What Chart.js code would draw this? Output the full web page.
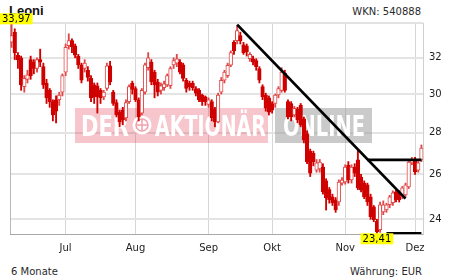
<!DOCTYPE html>
<html>
<head>
<meta charset="utf-8">
<script src="https://cdn.jsdelivr.net/npm/chart.js@4.4.1/dist/chart.umd.min.js"></script>
<style>
  html, body { margin: 0; padding: 0; background: #fff; }
  #wrap { position: relative; width: 468px; height: 279px; font-family: "DejaVu Sans", Verdana, sans-serif; }
  #chart { position: absolute; left: 0; top: 0; }
  .t { position: absolute; font-size: 10px; line-height: 12px; color: #2a2a2a; white-space: nowrap; }
</style>
</head>
<body>
<div id="wrap">
  <div class="t" style="left:9px;top:3px;font:bold 13px 'Liberation Sans',Arial,sans-serif;color:#111;">Leoni</div>
  <div class="t" style="right:47px;top:6px;">WKN: 540888</div>
  <div class="t" style="left:11px;top:266px;">6 Monate</div>
  <div class="t" style="right:46px;top:266px;">Währung: EUR</div>
  <canvas id="chart" width="468" height="279"></canvas>
</div>
<script>
// trading days, Jun 7 - Dec 5
const dates = [
  '07.06.','08.06.','11.06.','12.06.','13.06.','14.06.','15.06.','18.06.','19.06.','20.06.','21.06.','22.06.','25.06.','26.06.','27.06.','28.06.','29.06.',
  '02.07.','03.07.','04.07.','05.07.','06.07.','09.07.','10.07.','11.07.','12.07.','13.07.','16.07.','17.07.','18.07.','19.07.','20.07.','23.07.','24.07.','25.07.','26.07.','27.07.','30.07.','31.07.',
  '01.08.','02.08.','03.08.','06.08.','07.08.','08.08.','09.08.','10.08.','13.08.','14.08.','15.08.','16.08.','17.08.','20.08.','21.08.','22.08.','23.08.','24.08.','27.08.','28.08.','29.08.','30.08.','31.08.',
  '03.09.','04.09.','05.09.','06.09.','07.09.','10.09.','11.09.','12.09.','13.09.','14.09.','17.09.','18.09.','19.09.','20.09.','21.09.','24.09.','25.09.','26.09.','27.09.','28.09.',
  '01.10.','02.10.','03.10.','04.10.','05.10.','08.10.','09.10.','10.10.','11.10.','12.10.','15.10.','16.10.','17.10.','18.10.','19.10.','22.10.','23.10.','24.10.','25.10.','26.10.','29.10.','30.10.','31.10.',
  '01.11.','02.11.','05.11.','06.11.','07.11.','08.11.','09.11.','12.11.','13.11.','14.11.','15.11.','16.11.','19.11.','20.11.','21.11.','22.11.','23.11.','26.11.','27.11.','28.11.','29.11.','30.11.',
  '03.12.','04.12.','05.12.'
];

const opens = [
  32.9,33.5,32.15,32.0,30.4,30.8,31.9,31.75,31.4,31.9,31.5,30.6,30.2,29.6,29.7,29.7,30.1,
  31.2,32.7,33.0,32.7,32.1,31.6,31.4,31.3,30.85,30.5,30.45,30.2,29.85,30.3,31.55,30.1,29.55,29.05,29.15,28.75,29.6,30.6,
  30.3,29.7,29.0,30.1,31.45,31.75,31.2,30.65,30.2,30.35,30.5,30.45,31.6,31.7,31.75,31.6,30.75,30.6,30.6,30.3,30.2,29.95,29.85,
  29.45,29.6,29.2,28.55,30.1,30.75,31.0,31.58,32.9,33.0,33.3,32.75,32.7,31.95,31.95,31.85,31.4,30.4,29.95,29.8,
  29.5,29.5,29.95,30.2,31.15,29.6,29.5,28.9,29.2,29.4,28.7,27.95,27.1,27.0,26.2,26.25,26.34,25.7,25.3,24.98,24.85,24.76,25.6,
  25.65,26.44,25.74,26.34,26.68,25.88,25.6,25.52,24.98,24.54,23.92,23.56,24.32,24.41,24.63,24.72,25.2,25.16,24.98,25.07,25.43,26.54,
  26.68,26.2,26.68
];
const highs = [
  33.97,33.7,32.3,32.1,31.0,31.3,32.1,31.9,32.0,32.5,31.7,30.8,30.3,29.7,29.9,30.1,31.1,
  32.8,33.4,33.1,32.8,32.2,31.7,31.9,31.5,31.0,30.6,30.6,30.3,30.2,31.7,31.8,30.2,29.7,29.15,29.3,29.7,30.5,30.7,
  30.4,29.8,30.3,31.7,32.3,31.9,31.3,30.8,30.6,30.7,31.1,31.5,32.0,32.2,31.9,31.7,30.85,30.7,30.7,30.4,30.3,30.0,29.9,
  29.8,29.7,29.3,30.05,30.9,31.3,31.7,32.4,33.0,33.85,33.5,32.9,32.8,32.3,32.1,31.95,31.5,30.5,30.05,29.9,
  29.6,30.0,30.4,31.45,31.3,29.7,29.6,29.35,29.3,29.5,28.8,28.1,27.2,27.1,26.7,26.7,26.5,25.8,25.4,25.1,24.95,25.75,25.85,
  26.45,26.6,26.45,26.5,27.15,26.0,25.7,25.6,25.1,24.6,24.0,24.75,24.8,24.7,25.05,25.25,25.3,25.25,25.45,25.6,26.7,26.8,
  26.8,26.6,27.4
];
const lows = [
  32.6,31.9,31.4,30.2,30.1,30.6,30.8,31.1,31.2,31.5,30.3,29.5,29.3,28.6,28.5,29.4,29.9,
  31.0,32.5,32.3,32.0,31.4,30.6,31.2,30.7,29.6,29.5,29.0,29.5,29.7,30.2,30.5,29.4,28.8,28.3,28.4,28.6,29.5,30.0,
  29.6,28.6,28.9,30.0,31.3,30.5,29.8,29.9,30.0,30.2,30.4,30.3,31.4,31.5,31.1,30.7,30.1,30.2,30.2,29.9,29.6,29.4,29.4,
  29.3,28.6,28.3,28.5,30.0,30.6,30.9,31.5,32.2,32.8,32.8,32.2,32.1,31.8,31.6,31.3,30.6,29.7,29.1,28.9,
  29.0,29.3,29.8,30.1,30.1,28.7,28.6,28.8,28.5,28.3,27.5,26.5,25.9,26.4,26.1,26.1,25.1,24.4,24.7,24.6,24.3,24.6,25.5,
  25.55,25.6,25.6,25.9,25.3,25.2,24.9,24.6,24.0,23.9,23.41,23.45,24.2,24.3,24.5,24.6,24.75,24.75,24.9,25.0,25.35,26.45,
  26.0,26.1,26.6
];
const closes = [
  33.3,32.3,31.9,30.5,30.85,31.05,31.0,31.4,31.9,31.75,30.5,29.8,29.6,28.9,29.1,29.95,31.0,
  32.6,33.0,32.65,32.15,31.6,30.75,31.7,30.9,29.8,29.85,29.85,29.8,30.1,31.55,30.65,29.5,28.9,28.55,28.65,29.55,30.4,30.25,
  29.7,28.8,30.2,31.6,32.0,30.65,30.5,30.1,30.45,30.55,31.0,31.4,31.85,31.95,31.2,30.85,30.3,30.4,30.35,30.05,29.7,29.6,29.6,
  29.7,28.75,28.55,29.95,30.75,31.2,31.58,32.3,32.4,33.6,33.0,32.3,32.35,32.2,31.75,31.5,30.75,29.85,29.25,29.05,
  29.15,29.95,30.3,31.2,30.2,28.8,28.8,29.25,28.65,28.4,27.65,26.6,26.06,26.6,26.54,26.58,25.2,24.94,24.85,24.72,24.41,25.65,25.74,
  26.34,25.74,26.34,26.06,25.38,25.29,24.98,24.76,24.11,23.98,23.47,24.63,24.63,24.63,24.98,25.16,24.85,24.85,25.38,25.52,26.58,26.68,
  26.11,26.54,27.25
];

const monthLabels = ['Jul', 'Aug', 'Sep', 'Okt', 'Nov', 'Dez'];
const yTicks = [24, 26, 28, 30, 32];

// drawn lines: [date, value] endpoints
const trendLine = [['14.09.', 33.95], ['28.11.', 24.9]];
const resistLine = [['12.11.', 26.68], ['05.12.', 26.68]];
const supportLine = [['20.11.', 23.41], ['05.12.', 23.41]];

const monthStarts = [];
dates.forEach((d, i) => {
  if (i > 0 && d.slice(3, 5) !== dates[i - 1].slice(3, 5)) monthStarts.push(i);
});

const upFill = '#ffffff', upLine = '#e04848', downCol = '#cf0000';
const isUp = i => closes[i] >= opens[i];

const lineSet = pts => ({
  type: 'line',
  data: pts.map(p => ({ x: p[0], y: p[1] })),
  borderColor: '#000',
  borderWidth: 2.8,
  pointRadius: 0,
  order: 0
});

const fmt = v => v.toFixed(2).replace('.', ',');

const deco = {
  id: 'deco',
  beforeDatasetsDraw(chart) {
    const c = chart.ctx, a = chart.chartArea;
    c.save();
    // watermark
    c.fillStyle = 'rgba(225, 45, 70, 0.27)';
    c.fillRect(75, 108, 193, 35);
    c.fillStyle = 'rgba(150, 150, 150, 0.5)';
    c.fillRect(275, 108, 97, 35);
    c.fillStyle = '#fff';
    c.font = "bold 28px 'Liberation Sans Narrow', 'DejaVu Sans Condensed', sans-serif";
    c.textBaseline = 'alphabetic';
    c.fillText('DER', 81, 136, 48);
    c.fillText('AKTIONÄR', 155, 136, 111);
    c.fillText('ONLINE', 283, 136, 82);
    c.beginPath();
    c.arc(142, 125, 9.5, 0, Math.PI * 2);
    c.fill();
    c.strokeStyle = 'rgba(225, 45, 70, 0.45)';
    c.lineWidth = 1.5;
    c.beginPath();
    c.arc(142, 125, 6, 0, Math.PI * 2);
    c.moveTo(136, 125); c.lineTo(148, 125);
    c.moveTo(142, 119); c.lineTo(142, 131);
    c.stroke();
    // frame
    c.strokeStyle = '#e2e2e2';
    c.lineWidth = 2;
    c.beginPath();
    c.moveTo(a.left, a.top); c.lineTo(a.right, a.top);
    c.stroke();
    c.strokeStyle = '#b8b8b8';
    c.lineWidth = 1;
    c.beginPath();
    c.moveTo(a.left + 0.5, a.top); c.lineTo(a.left + 0.5, a.bottom);
    c.stroke();
    c.restore();
  },
  afterDatasetsDraw(chart) {
    const c = chart.ctx, xs = chart.scales.x, ys = chart.scales.y;
    let hi = 0, lo = 0;
    highs.forEach((v, i) => { if (v > highs[hi]) hi = i; });
    lows.forEach((v, i) => { if (v < lows[lo]) lo = i; });
    c.save();
    c.font = "10px 'DejaVu Sans', sans-serif";
    c.textBaseline = 'middle';
    c.textAlign = 'center';
    const tag = (txt, px, top) => {
      const w = c.measureText(txt).width + 4, h = 11;
      let x0 = Math.max(0, px - w / 2);
      c.fillStyle = '#ffff00';
      c.fillRect(x0, top, w, h);
      c.fillStyle = '#000';
      c.fillText(txt, x0 + w / 2, top + h / 2 + 0.5);
    };
    tag(fmt(highs[hi]), xs.getPixelForValue(hi), ys.getPixelForValue(highs[hi]) - 11);
    tag(fmt(lows[lo]), xs.getPixelForValue(lo), ys.getPixelForValue(lows[lo]));
    c.restore();
  }
};

new Chart(document.getElementById('chart'), {
  type: 'bar',
  data: {
    labels: dates,
    datasets: [
      lineSet(trendLine),
      lineSet(resistLine),
      lineSet(supportLine),
      {
        data: opens.map((o, i) => [o, closes[i]]),
        backgroundColor: ctx => isUp(ctx.dataIndex) ? upFill : downCol,
        borderColor: ctx => isUp(ctx.dataIndex) ? upLine : downCol,
        borderWidth: 1,
        borderSkipped: false,
        barThickness: 3.6,
        minBarLength: 1.5,
        grouped: false,
        order: 1
      },
      {
        data: lows.map((l, i) => [l, highs[i]]),
        backgroundColor: ctx => isUp(ctx.dataIndex) ? upLine : downCol,
        barThickness: 1.2,
        grouped: false,
        order: 2
      }
    ]
  },
  options: {
    responsive: false,
    animation: false,
    devicePixelRatio: 1,
    layout: { padding: { left: 10, top: 23, right: 0, bottom: 23 } },
    plugins: { legend: { display: false }, tooltip: { enabled: false } },
    scales: {
      x: {
        offset: true,
        grid: { offset: false, color: '#d6d6d6', lineWidth: 1, drawTicks: false },
        border: { color: '#a8a8a8' },
        afterBuildTicks: s => { s.ticks = monthStarts.map(i => ({ value: i })); },
        afterFit: s => { s.height = 22; },
        ticks: {
          autoSkip: false, maxRotation: 0, padding: 8, color: '#222',
          font: { family: 'DejaVu Sans', size: 10 },
          callback: v => monthLabels[monthStarts.indexOf(v)]
        }
      },
      y: {
        type: 'logarithmic',
        position: 'right',
        min: 23.38,
        max: 34.05,
        grid: { color: '#e4e4e4', lineWidth: 2, drawTicks: false },
        border: { color: '#d0d0d0' },
        afterBuildTicks: s => { s.ticks = yTicks.map(v => ({ value: v })); },
        afterFit: s => { s.width = 45; },
        ticks: {
          padding: 6, color: '#222',
          font: { family: 'DejaVu Sans', size: 10 },
          callback: v => String(v)
        }
      }
    }
  },
  plugins: [deco]
});
</script>
</body>
</html>
